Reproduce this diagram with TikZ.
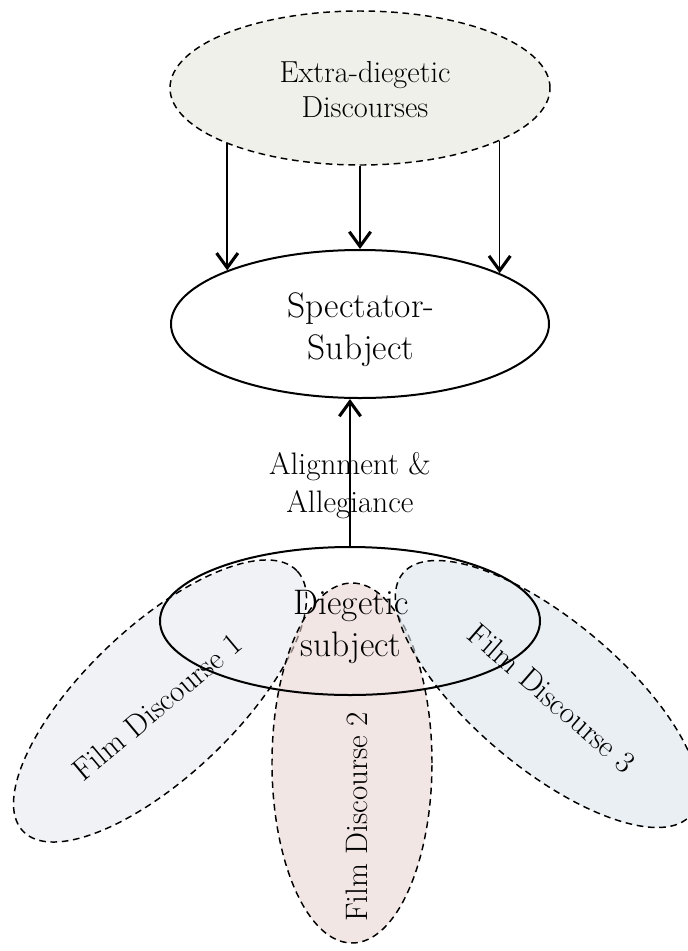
\documentclass[tikz,border=0pt]{standalone}
\usepackage{fontspec}
\usetikzlibrary{shapes.geometric,arrows.meta}
\definecolor{extrafill}{RGB}{240,240,234}
\definecolor{fdone}{RGB}{232,233,238}
\definecolor{fdtwo}{RGB}{233,213,210}
\definecolor{fdthree}{RGB}{218,228,233}
\begin{document}
\begin{tikzpicture}[x=0.75pt,y=-0.75pt,
  oval/.style={ellipse, draw=black, inner sep=0pt},
  solidoval/.style={oval, line width=1.5pt},
  dashoval/.style={oval, line width=1.1pt, dash pattern=on 5pt off 3.5pt},
  discourse/.style={dashoval, fill opacity=0.6},
  lab/.style={font=\fontsize{23.3}{28.5}\selectfont, align=center, inner sep=0pt},
  big/.style={font=\fontsize{26.6}{31.5}\selectfont, align=center, inner sep=0pt},
  arr/.style={line width=1.1pt, -{Straight Barb[length=11pt,width=16pt,line width=2.3pt]}}
]
\useasboundingbox (0,0) rectangle (688,951);

% upper ovals
\node[dashoval, fill=extrafill, minimum width=285pt, minimum height=115.5pt] (extra) at (360,88) {};
\node[font=\fontsize{22.8}{26.25}\selectfont, align=center, inner sep=0pt] (extratext) at (365,90) {Extra-diegetic\\Discourses};
\node[solidoval, fill=white, minimum width=283.5pt, minimum height=111pt] (spec) at (360,324) {};
\node[big] (spectext) at (361,330) {Spectator-\\Subject};

% the three film discourses
\node[discourse, fill=fdone, minimum width=283.5pt, minimum height=112.5pt, rotate=43.5] (fd1) at (160,701) {};
\node[discourse, fill=fdtwo, minimum width=120pt, minimum height=270pt] (fd2) at (352,763) {};
\node[discourse, fill=fdthree, minimum width=282pt, minimum height=111pt, rotate=-40] (fd3) at (547,694) {};
\node[lab, rotate=40] (fd1text) at (157,707) {Film Discourse 1};
\node[lab, rotate=90] (fd2text) at (357,817) {Film Discourse 2};
\node[lab, rotate=-41] (fd3text) at (552,698) {Film Discourse 3};

% diegetic subject
\node[solidoval, minimum width=285pt, minimum height=111pt] (dieg) at (350,621) {};
\node[big] (diegtext) at (351,627) {Diegetic\\subject};

% connectors
\draw[arr] (spec.158.1 |- extra.202.5) -- (spec.158.1);
\draw[arr] (extra.south) -- (spec.north);
\draw[arr] (spec.20.7 |- extra.-21.9) -- (spec.20.7);
\draw[arr] (dieg.north) -- (dieg.north |- spec.south)
  node[lab, pos=0.41] (alignlabel) {Alignment \&\\Allegiance};
\end{tikzpicture}
\end{document}
